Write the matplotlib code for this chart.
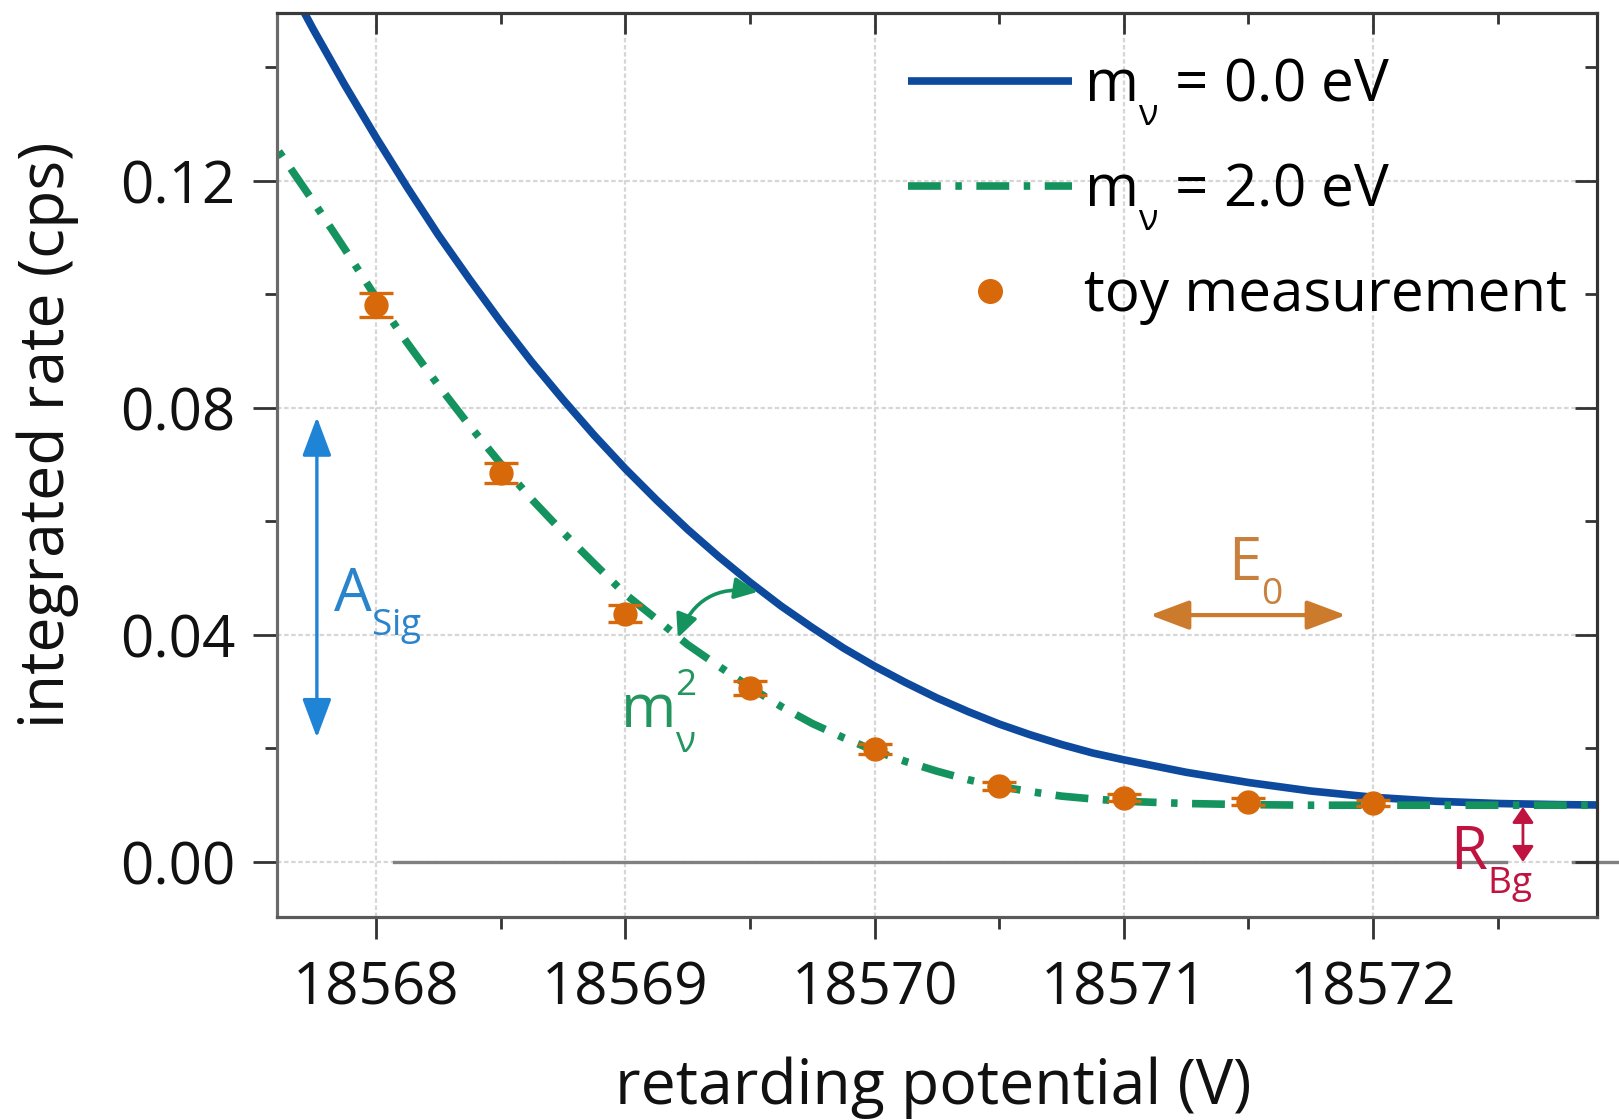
import matplotlib
matplotlib.use('Agg')
import matplotlib.pyplot as plt
from matplotlib.ticker import FixedLocator
from matplotlib.lines import Line2D
import matplotlib.transforms as mtransforms

plt.rcParams['font.family'] = ['Open Sans', 'DejaVu Sans']
plt.rcParams['mathtext.fontset'] = 'custom'
plt.rcParams['mathtext.rm'] = 'Open Sans'
plt.rcParams['mathtext.it'] = 'Open Sans:italic'
plt.rcParams['mathtext.bf'] = 'Open Sans:bold'
plt.rcParams['mathtext.default'] = 'regular'

# deeper sub/superscripts as in the reference typesetting
try:
    import matplotlib._mathtext as _mt
    _mt.FontConstantsBase.sub1 = 0.78
    _mt.FontConstantsBase.sub2 = 0.78
    _mt.FontConstantsBase.sup1 = 1.0
    _mt.SHRINK_FACTOR = 0.62
except Exception:
    pass

# ---------------- data ----------------
retarding_potential = [18567.500, 18567.625, 18567.750, 18567.875, 18568.000, 18568.125,
                       18568.250, 18568.375, 18568.500, 18568.625, 18568.750, 18568.875,
                       18569.000, 18569.125, 18569.250, 18569.375, 18569.500, 18569.625,
                       18569.750, 18569.875, 18570.000, 18570.125, 18570.250, 18570.375,
                       18570.500, 18570.625, 18570.750, 18570.875, 18571.000, 18571.250,
                       18571.500, 18571.750, 18572.000, 18572.250, 18572.500, 18572.750,
                       18573.000]
rate_m0 = [0.1675, 0.1568, 0.1466, 0.1369, 0.1277, 0.1189,
           0.1105, 0.1027, 0.0952, 0.0881, 0.0815, 0.0752,
           0.0693, 0.0638, 0.0586, 0.0538, 0.0493, 0.0451,
           0.0413, 0.0377, 0.0345, 0.0316, 0.0289, 0.0265,
           0.0243, 0.0224, 0.0207, 0.0192, 0.0180, 0.0158,
           0.0140, 0.0125, 0.0114, 0.0107, 0.0103, 0.0101,
           0.0100]
rate_m2 = [0.1320, 0.1243, 0.1163, 0.1080, 0.0995, 0.0915,
           0.0840, 0.0769, 0.0702, 0.0639, 0.0581, 0.0526,
           0.0472, 0.0428, 0.0383, 0.0345, 0.0308, 0.0274,
           0.0244, 0.0219, 0.0196, 0.0177, 0.0160, 0.0145,
           0.0133, 0.0124, 0.0116, 0.0111, 0.0107, 0.0103,
           0.0101, 0.0100, 0.0100, 0.0100, 0.0100, 0.0100,
           0.0100]

toy_potential = [18568.0, 18568.5, 18569.0, 18569.5, 18570.0, 18570.5, 18571.0, 18571.5, 18572.0]
toy_rate = [0.0981, 0.0685, 0.0437, 0.0307, 0.0199, 0.0134, 0.0113, 0.0106, 0.0104]
toy_err = [0.0021, 0.0018, 0.0015, 0.0012, 0.0009, 0.0007, 0.0006, 0.0006, 0.0006]

x_ticks = [18568, 18569, 18570, 18571, 18572]
x_tick_labels = ['18568', '18569', '18570', '18571', '18572']
x_minor_ticks = [18568.5, 18569.5, 18570.5, 18571.5, 18572.5]
y_ticks = [0.00, 0.04, 0.08, 0.12]
y_tick_labels = ['0.00', '0.04', '0.08', '0.12']
y_minor_ticks = [0.02, 0.06, 0.10, 0.14]

legend_labels = [r'm$_{\nu}$ = 0.0 eV', r'm$_{\nu}$ = 2.0 eV', 'toy measurement']
x_label = 'retarding potential (V)'
y_label = 'integrated rate (cps)'

# ---------------- style ----------------
BLUE = '#0d4a9e'
GREEN = '#15935e'
ORANGE = '#d8690a'
ASIG = '#1f84d6'
E0C = '#cc7a2c'
RBG = '#bf1440'
FS = 42
XLIM = (18567.603, 18572.898)
YLIM = (-0.0097, 0.1496)

fig = plt.figure(figsize=(16.19, 11.2), dpi=100)
ax = fig.add_axes([0.17109, 0.18125, 0.81532, 0.80714])
ax.set_xlim(*XLIM)
ax.set_ylim(*YLIM)

ax.xaxis.set_major_locator(FixedLocator(x_ticks))
ax.xaxis.set_minor_locator(FixedLocator(x_minor_ticks))
ax.set_xticklabels(x_tick_labels)
ax.yaxis.set_major_locator(FixedLocator(y_ticks))
ax.yaxis.set_minor_locator(FixedLocator(y_minor_ticks))
ax.set_yticklabels(y_tick_labels)

ax.grid(True, which='major', color='#d6d6d6', lw=1.6, ls=(0, (2, 1.2)), zorder=0)
ax.set_axisbelow(True)

ax.tick_params(axis='x', which='major', direction='out', length=16, width=2, pad=15,
               labelsize=FS, colors='#333333', labelcolor='#111111', top=False)
ax.tick_params(axis='x', which='minor', direction='out', length=8.6, width=2,
               colors='#333333', top=False)
ax.tick_params(axis='y', which='major', direction='out', length=17, width=2, pad=13,
               labelsize=FS, colors='#333333', labelcolor='#111111', right=False)
ax.tick_params(axis='y', which='minor', direction='out', length=8.6, width=2,
               colors='#333333', right=False)

for side, col in [('top', '#3a3a3a'), ('right', '#333333'), ('left', '#6a6a6a'), ('bottom', '#5a5a5a')]:
    ax.spines[side].set_color(col)
    ax.spines[side].set_linewidth(2.2)

# inward ticks on top and right (twin axes)
axr = ax.twinx()
axr.set_ylim(*YLIM)
axr.yaxis.set_major_locator(FixedLocator(y_ticks))
axr.yaxis.set_minor_locator(FixedLocator(y_minor_ticks))
axr.tick_params(axis='y', which='major', direction='in', length=16, width=2,
                labelright=False, colors='#333333')
axr.tick_params(axis='y', which='minor', direction='in', length=9, width=2, colors='#333333')
axt = ax.twiny()
axt.set_xlim(*XLIM)
axt.xaxis.set_major_locator(FixedLocator(x_ticks))
axt.xaxis.set_minor_locator(FixedLocator(x_minor_ticks))
axt.tick_params(axis='x', which='major', direction='in', length=15, width=2,
                labeltop=False, colors='#333333')
axt.tick_params(axis='x', which='minor', direction='in', length=8, width=2, colors='#333333')
for a in (axr, axt):
    for side, col in [('top', '#3a3a3a'), ('right', '#333333'), ('left', '#6a6a6a'), ('bottom', '#5a5a5a')]:
        a.spines[side].set_color(col)
        a.spines[side].set_linewidth(2.2)

# zero line
blend = mtransforms.blended_transform_factory(ax.transAxes, ax.transData)
ax.plot([0.089, 0.931], [0, 0], color='#808080', lw=2.4, transform=blend, zorder=1)
ax.plot([0.982, 1.02], [0, 0], color='#808080', lw=2.4, transform=blend, zorder=1, clip_on=False)

# curves
l0, = ax.plot(retarding_potential, rate_m0, color=BLUE, lw=5.5, solid_capstyle='butt',
              solid_joinstyle='round', zorder=3)
l2, = ax.plot(retarding_potential, rate_m2, color=GREEN, lw=5.5, ls=(0, (4.3, 1.9, 0.85, 1.9)),
              dash_capstyle='butt', zorder=3)
ax.errorbar(toy_potential, toy_rate, yerr=toy_err, fmt='none', ecolor=ORANGE,
            elinewidth=2.4, capsize=12, capthick=2.4, zorder=4)
pts, = ax.plot(toy_potential, toy_rate, 'o', color=ORANGE, ms=16.5, mec=ORANGE, zorder=5)

leg_pts = Line2D([], [], marker='o', ls='none', color=ORANGE, ms=17)
leg = ax.legend([l0, l2, leg_pts], legend_labels, loc='upper left',
                bbox_to_anchor=(0.4784, 0.952), frameon=False, fontsize=FS,
                handlelength=2.81, handletextpad=0.2, borderpad=0, borderaxespad=0,
                labelspacing=0.58)

# annotations
ax.annotate('', xy=(18567.763, 0.0219), xytext=(18567.763, 0.0784),
            arrowprops=dict(arrowstyle='<|-|>,head_length=24,head_width=9', mutation_scale=1,
                            color=ASIG, lw=2.4, shrinkA=0, shrinkB=0), zorder=6)
ax.text(18567.828, 0.0441, r'A$_{Sig}$', color='#2a84cc', fontsize=43, va='baseline', ha='left', zorder=6)

ax.annotate('', xy=(18569.532, 0.0476), xytext=(18569.211, 0.0395),
            arrowprops=dict(arrowstyle='<|-|>,head_length=14,head_width=6.5', mutation_scale=1,
                            color=GREEN, lw=2.6, shrinkA=0, shrinkB=0,
                            connectionstyle='arc3,rad=-0.4'), zorder=6)
ax.text(18568.979, 0.0236, r'm$_{\nu}^{2}$', color='#23955f', fontsize=43, va='baseline', ha='left', zorder=6)

ax.annotate('', xy=(18571.891, 0.0435), xytext=(18571.105, 0.0435),
            arrowprops=dict(arrowstyle='<|-|>,head_length=24,head_width=9', mutation_scale=1,
                            color=E0C, lw=3, shrinkA=0, shrinkB=0), zorder=6)
ax.text(18571.418, 0.0497, r'E$_{0}$', color='#c8803e', fontsize=43, va='baseline', ha='left', zorder=6)

ax.annotate('', xy=(18572.601, 0.0000), xytext=(18572.601, 0.0097),
            arrowprops=dict(arrowstyle='<|-|>,head_length=9.5,head_width=6.5', mutation_scale=1,
                            color=RBG, lw=2, shrinkA=0, shrinkB=0), zorder=6)
ax.text(18572.308, -0.0014, r'R$_{Bg}$', color=RBG, fontsize=43, va='baseline', ha='left', zorder=6)

# axis labels
ax.set_xlabel(x_label, fontsize=45, color='#111111', va='center')
ax.xaxis.set_label_coords(0.4974, -0.1892)
ax.set_ylabel(y_label, fontsize=45, color='#111111', va='center')
ax.yaxis.set_label_coords(-0.1734, 0.5332)

fig.savefig('out.png', dpi=100)
